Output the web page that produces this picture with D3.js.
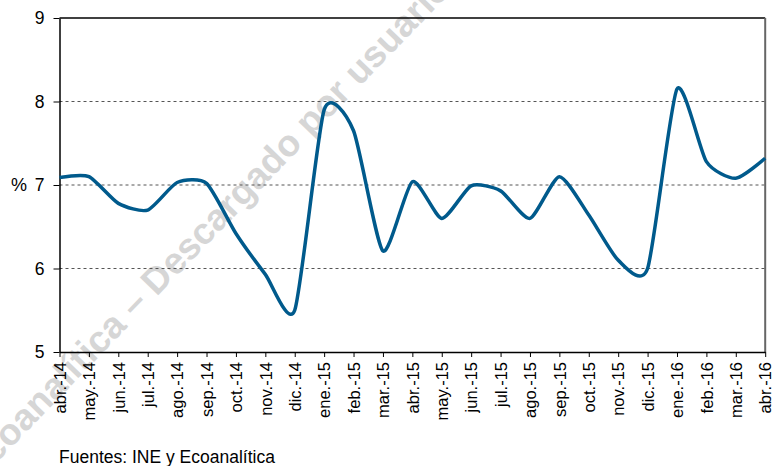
<!DOCTYPE html>
<html>
<head>
<meta charset="utf-8">
<script src="https://cdn.jsdelivr.net/npm/d3@7"></script>
<style>
    body { margin: 0; background: #fff; }
    svg { font-family: "Liberation Sans", Arial, sans-serif; }
</style>
</head>
<body>
<div id="chart"></div>
<script>
// months shown on the x axis
const months = ["abr.-14", "may.-14", "jun.-14", "jul.-14", "ago.-14", "sep.-14", "oct.-14",
    "nov.-14", "dic.-14", "ene.-15", "feb.-15", "mar.-15", "abr.-15", "may.-15", "jun.-15",
    "jul.-15", "ago.-15", "sep.-15", "oct.-15", "nov.-15", "dic.-15", "ene.-16", "feb.-16",
    "mar.-16", "abr.-16"];

// monthly values (%)
const values = [7.09, 7.1, 6.78, 6.7, 7.03, 7.02, 6.42, 5.93, 5.5, 7.9, 7.65, 6.21, 7.04,
    6.6, 6.99, 6.93, 6.6, 7.1, 6.64, 6.1, 6.0, 8.15, 7.28, 7.08, 7.32];

const yTicks = [5, 6, 7, 8, 9];
const gridTicks = [6, 7, 8];
const sourceText = "Fuentes: INE y Ecoanalítica";
const watermarkText = "Ecoanalítica – Descargado por usuario";

var W = 774, H = 466;
var plotLeft = 59.5, plotRight = 765.2, plotTop = 18, plotBottom = 352;

var x = d3.scalePoint().domain(months).range([plotLeft, plotRight]);
var y = d3.scaleLinear().domain([5, 9]).range([plotBottom, plotTop]);

var svg = d3.select("#chart").append("svg")
    .attr("width", W)
    .attr("height", H);

// watermark behind everything
svg.append("text")
    .text(watermarkText)
    .attr("transform", "translate(-22,482) rotate(-46)")
    .attr("font-size", 37)
    .attr("font-weight", "bold")
    .attr("fill", "#d6d6d6");

// dashed gridlines
svg.append("g")
    .selectAll("line")
    .data(gridTicks)
    .join("line")
    .attr("x1", plotLeft)
    .attr("x2", plotRight)
    .attr("y1", d => y(d))
    .attr("y2", d => y(d))
    .attr("stroke", "#555")
    .attr("stroke-width", 1)
    .attr("stroke-dasharray", "3,3");

// top and right frame
svg.append("line")
    .attr("x1", plotLeft).attr("x2", plotRight)
    .attr("y1", y(9)).attr("y2", y(9))
    .attr("stroke", "#000").attr("stroke-width", 1.3);
svg.append("line")
    .attr("x1", plotRight).attr("x2", plotRight)
    .attr("y1", y(9)).attr("y2", y(5))
    .attr("stroke", "#666").attr("stroke-width", 2);

// y axis
var yAxis = svg.append("g")
    .attr("transform", `translate(${plotLeft},0)`)
    .call(d3.axisLeft(y).tickValues(yTicks).tickSize(6).tickSizeOuter(0).tickPadding(9).tickFormat(d3.format("d")));
yAxis.select(".domain").attr("stroke", "#000").attr("stroke-width", 1.5);
yAxis.selectAll("text").attr("font-size", 17.5).attr("fill", "#000").attr("font-family", null);

svg.append("text")
    .text("%")
    .attr("x", 11)
    .attr("y", y(7) + 6)
    .attr("font-size", 18);

// x axis
var xAxis = svg.append("g")
    .attr("transform", `translate(0,${plotBottom})`)
    .call(d3.axisBottom(x).tickSize(5).tickSizeOuter(0));
xAxis.select(".domain").attr("stroke", "#000").attr("stroke-width", 1.5);
xAxis.selectAll("text")
    .attr("transform", "rotate(-90)")
    .attr("x", -10)
    .attr("y", 0)
    .attr("dy", "0.35em")
    .attr("text-anchor", "end")
    .attr("font-size", 16.5)
    .attr("fill", "#000")
    .attr("font-family", null);

// the series line (smoothed like the spreadsheet chart)
var line = d3.line()
    .x((d, i) => x(months[i]))
    .y(d => y(d))
    .curve(d3.curveCardinal.tension(0.35));

svg.append("path")
    .datum(values)
    .attr("d", line)
    .attr("fill", "none")
    .attr("stroke", "#005a8c")
    .attr("stroke-width", 3.5);

// source note
svg.append("text")
    .text(sourceText)
    .attr("x", 59)
    .attr("y", 463)
    .attr("font-size", 17.5);
</script>
</body>
</html>
